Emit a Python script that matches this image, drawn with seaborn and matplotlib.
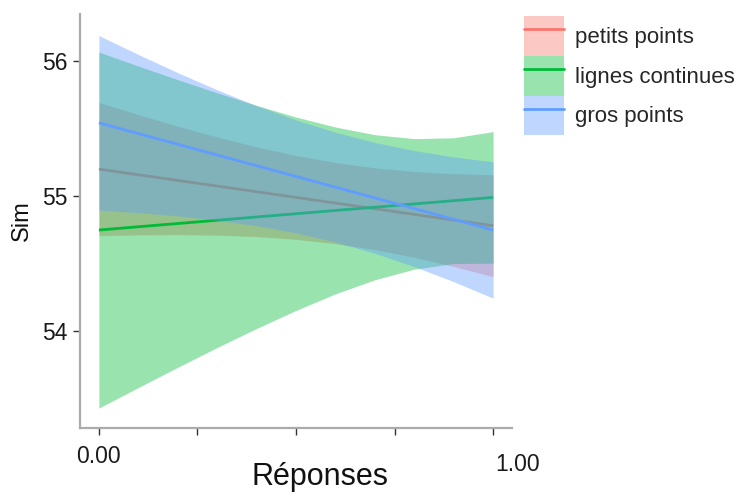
import numpy as np
import pandas as pd
import matplotlib
matplotlib.use("Agg")
import matplotlib.pyplot as plt
from matplotlib.patches import Patch
from matplotlib.lines import Line2D
from matplotlib.transforms import ScaledTranslation
import seaborn as sns

# ---- data ----
groups = ["petits points", "lignes continues", "gros points"]
colors = ["#F8766D", "#00BA38", "#619CFF"]

x_grid = [0.0, 0.1, 0.2, 0.3, 0.4, 0.5, 0.6, 0.7, 0.8, 0.9, 1.0]

# fitted lines (endpoints at Réponses = 0 and 1)
line_x = [0.0, 1.0]
petits_line = [55.20, 54.78]
lignes_line = [54.748, 54.99]
gros_line = [55.543, 54.748]

# confidence band edges along x_grid
petits_upper = [55.694, 55.604, 55.518, 55.438, 55.364, 55.301, 55.249, 55.209, 55.182, 55.166, 55.158]
petits_lower = [54.706, 54.712, 54.714, 54.710, 54.700, 54.679, 54.647, 54.603, 54.546, 54.478, 54.402]
lignes_upper = [56.068, 55.964, 55.863, 55.765, 55.672, 55.586, 55.512, 55.455, 55.426, 55.432, 55.478]
lignes_lower = [53.428, 53.580, 53.730, 53.877, 54.018, 54.152, 54.275, 54.379, 54.458, 54.500, 54.502]
gros_upper = [56.190, 56.050, 55.915, 55.788, 55.670, 55.564, 55.473, 55.397, 55.337, 55.290, 55.254]
gros_lower = [54.896, 54.877, 54.853, 54.821, 54.780, 54.727, 54.659, 54.576, 54.477, 54.365, 54.243]

y_ticks = [54, 55, 56]
x_ticks = [0.0, 0.25, 0.5, 0.75, 1.0]
x_tick_labels = ["0.00", "", "", "", "1.00"]

lines = [petits_line, lignes_line, gros_line]
uppers = [petits_upper, lignes_upper, gros_upper]
lowers = [petits_lower, lignes_lower, gros_lower]

# ---- plot ----
sns.set_theme(style="ticks")
plt.rcParams["font.family"] = ["Liberation Sans", "DejaVu Sans"]

fig = plt.figure(figsize=(7.41, 4.93), dpi=100)
ax = fig.add_axes([80 / 741, 1 - 428 / 493, 432 / 741, (428 - 14) / 493])

z = 2
for g, c, ln, up, lo in zip(groups, colors, lines, uppers, lowers):
    ax.fill_between(x_grid, lo, up, color=c, alpha=0.4, linewidth=0, zorder=z)
    df = pd.DataFrame({"x": line_x, "y": ln})
    sns.lineplot(data=df, x="x", y="y", color=c, linewidth=2.0, ax=ax,
                 zorder=z + 1, solid_capstyle="butt")
    z += 2

ax.set_xlim(-0.048, 1.048)
ax.set_ylim(53.28, 56.35)
ax.set_yticks(y_ticks)
ax.set_yticklabels([str(t) for t in y_ticks])
ax.set_xticks(x_ticks)
ax.set_xticklabels(x_tick_labels)

for s in ["top", "right"]:
    ax.spines[s].set_visible(False)
for s in ["left", "bottom"]:
    ax.spines[s].set_color("#ABABAB")
    ax.spines[s].set_linewidth(1.6)

ax.tick_params(axis="both", length=5, width=1.0, color="#333333",
               labelsize=16.5, labelcolor="#1a1a1a")
ax.tick_params(axis="x", pad=7)
ax.tick_params(axis="y", pad=4)
lab = ax.get_xticklabels()[-1]
lab.set_transform(lab.get_transform() + ScaledTranslation(0.24, -0.08, fig.dpi_scale_trans))

ax.set_xlabel("Réponses", fontsize=22, color="#111111")
ax.xaxis.set_label_coords((320 - 80) / 432, -0.082)
ax.set_ylabel("Sim", fontsize=17, color="#111111")
ax.yaxis.set_label_coords(-0.11, 0.5)

handles = [(Patch(facecolor=c, alpha=0.4, edgecolor="none"),
            Line2D([0], [0], color=c, linewidth=2.0)) for c in colors]
fig.legend(handles, groups, loc="upper left",
           bbox_to_anchor=(524 / 741, 1 - 16 / 493), frameon=False,
           fontsize=16, handlelength=1.78, handleheight=2.38,
           handletextpad=0.5, labelspacing=0.0, borderpad=0, borderaxespad=0)

fig.savefig("out.png", dpi=100)
